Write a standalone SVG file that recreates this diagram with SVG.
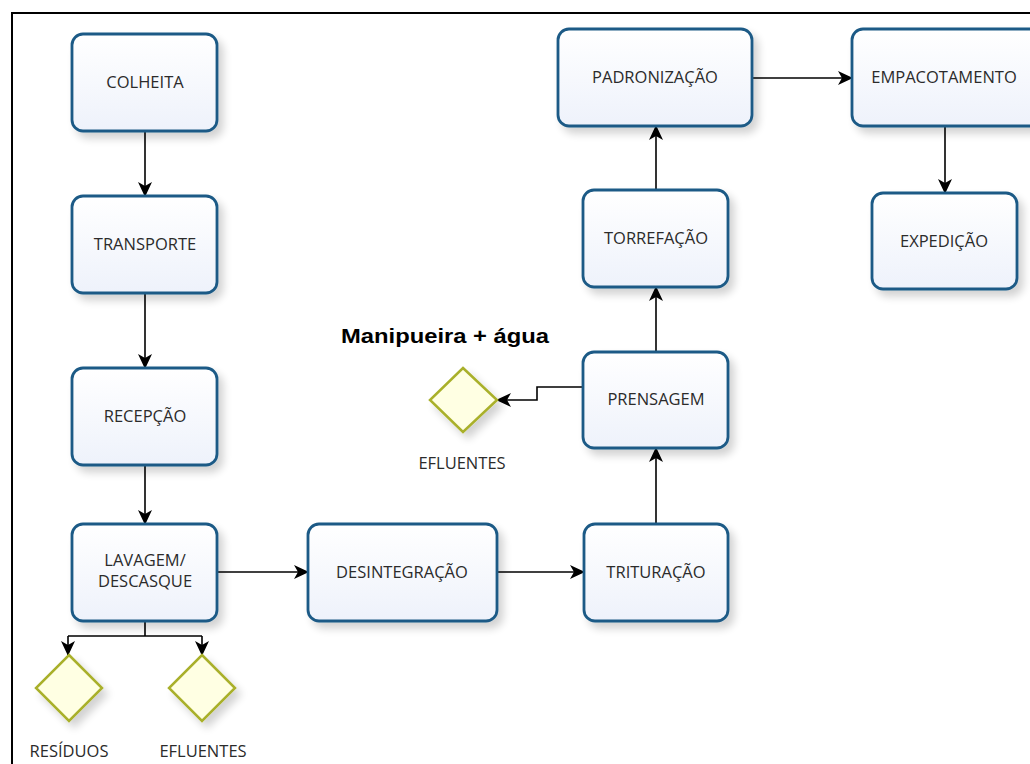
<svg xmlns="http://www.w3.org/2000/svg" width="1030" height="764" viewBox="0 0 1030 764">
  <defs>
    <linearGradient id="boxFill" x1="0" y1="0" x2="0" y2="1">
      <stop offset="0" stop-color="#ffffff"/>
      <stop offset="1" stop-color="#eef2fb"/>
    </linearGradient>
    <filter id="shadow" x="-20%" y="-20%" width="150%" height="150%">
      <feGaussianBlur in="SourceAlpha" stdDeviation="4"/>
      <feOffset dx="5" dy="6" result="b"/>
      <feComponentTransfer><feFuncA type="linear" slope="0.18"/></feComponentTransfer>
      <feMerge><feMergeNode/><feMergeNode in="SourceGraphic"/></feMerge>
    </filter>
    <marker id="arrow" viewBox="0 0 15 14" refX="14" refY="7" markerWidth="15" markerHeight="14" markerUnits="userSpaceOnUse" orient="auto">
      <path d="M0,0 L15,7 L0,14 L4,7 Z" fill="#000"/>
    </marker>
  </defs>
  <style>
    .box { fill: url(#boxFill); stroke: #1c5a86; stroke-width: 2.8; filter: url(#shadow); }
    .dia { fill: #ffffe3; stroke: #a9b02a; stroke-width: 2.5; filter: url(#shadow); }
    .lbl { font-family: "Open Sans", "Noto Sans", "DejaVu Sans", sans-serif; font-size: 16.5px; fill: #2b2b2b; text-anchor: middle; }
    .edge { fill: none; stroke: #000; stroke-width: 1.6; }
    .ar { marker-end: url(#arrow); }
  </style>

  <rect width="1030" height="764" fill="#fff"/>
  <!-- frame -->
  <path d="M12,764 V13 H1030" fill="none" stroke="#000" stroke-width="2"/>

  <!-- connectors -->
  <g id="connectors">
    <path class="edge ar" d="M145,131 V196"/>
    <path class="edge ar" d="M145,293 V368"/>
    <path class="edge ar" d="M145,465 V524"/>
    <path class="edge ar" d="M217,572 H308"/>
    <path class="edge ar" d="M497,572 H584"/>
    <path class="edge ar" d="M656,524 V448"/>
    <path class="edge ar" d="M656,352 V287"/>
    <path class="edge ar" d="M656,190 V126"/>
    <path class="edge ar" d="M752,78 H852"/>
    <path class="edge ar" d="M945,126 V193"/>
    <path class="edge ar" d="M583,387 H537 V400 H497"/>
    <path class="edge" d="M145,621 V636 H68 M145,636 H202"/>
    <path class="edge ar" d="M68,636 V655"/>
    <path class="edge ar" d="M202,636 V655"/>
  </g>

  <!-- process steps -->
  <g id="colheita"><rect class="box" x="72" y="34" width="145" height="97" rx="11"/><text class="lbl" x="145" y="88">COLHEITA</text></g>
  <g id="transporte"><rect class="box" x="72" y="196" width="145" height="97" rx="11"/><text class="lbl" x="145" y="250">TRANSPORTE</text></g>
  <g id="recepcao"><rect class="box" x="72" y="368" width="145" height="97" rx="11"/><text class="lbl" x="145" y="422">RECEPÇÃO</text></g>
  <g id="lavagem"><rect class="box" x="72" y="524" width="145" height="97" rx="11"/><text class="lbl" x="145" y="566">LAVAGEM/</text><text class="lbl" x="145" y="587">DESCASQUE</text></g>
  <g id="desintegracao"><rect class="box" x="308" y="524" width="189" height="97" rx="11"/><text class="lbl" x="402" y="578">DESINTEGRAÇÃO</text></g>
  <g id="trituracao"><rect class="box" x="584" y="524" width="144" height="97" rx="11"/><text class="lbl" x="656" y="578">TRITURAÇÃO</text></g>
  <g id="prensagem"><rect class="box" x="583" y="352" width="145" height="96" rx="11"/><text class="lbl" x="656" y="405">PRENSAGEM</text></g>
  <g id="torrefacao"><rect class="box" x="583" y="190" width="145" height="97" rx="11"/><text class="lbl" x="656" y="244">TORREFAÇÃO</text></g>
  <g id="padronizacao"><rect class="box" x="558" y="29" width="194" height="97" rx="11"/><text class="lbl" x="655" y="83">PADRONIZAÇÃO</text></g>
  <g id="empacotamento"><rect class="box" x="852" y="29" width="190" height="97" rx="11"/><text class="lbl" x="944" y="83">EMPACOTAMENTO</text></g>
  <g id="expedicao"><rect class="box" x="872" y="193" width="145" height="96" rx="11"/><text class="lbl" x="944" y="247">EXPEDIÇÃO</text></g>

  <!-- by-products -->
  <g id="efluentes-prensagem"><path class="dia" d="M463,368 L497,400 L463,432 L430,400 Z"/><text class="lbl" x="462" y="469">EFLUENTES</text></g>
  <g id="residuos"><path class="dia" d="M69,655 L102,688 L69,721 L36,688 Z"/><text class="lbl" x="69" y="757">RESÍDUOS</text></g>
  <g id="efluentes-lavagem"><path class="dia" d="M202,655 L235,688 L202,721 L169,688 Z"/><text class="lbl" x="203" y="757">EFLUENTES</text></g>

  <text x="341" y="343" textLength="208" lengthAdjust="spacingAndGlyphs" font-family="'Liberation Sans', Arial, sans-serif" font-size="21" font-weight="bold" fill="#000">Manipueira + água</text>
</svg>
